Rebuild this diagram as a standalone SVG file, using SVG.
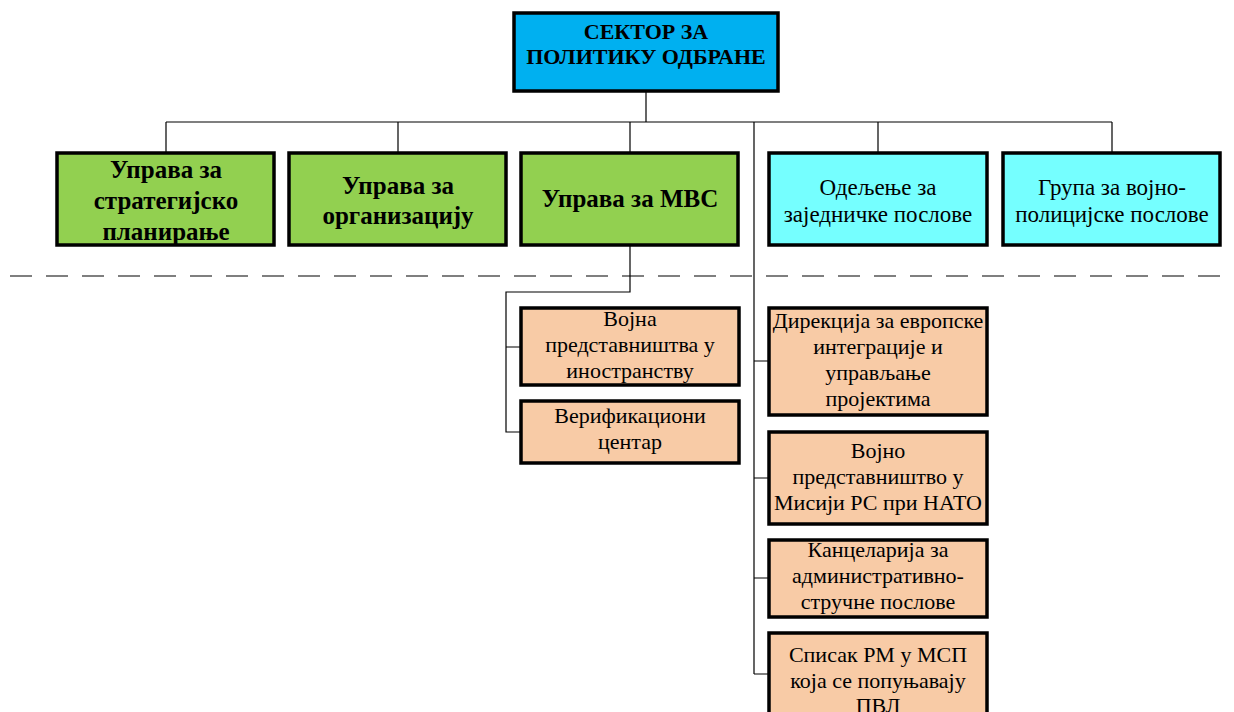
<svg xmlns="http://www.w3.org/2000/svg" width="1234" height="712" viewBox="0 0 1234 712">
<style>
.box{stroke:#000;stroke-width:3.5}
.top{fill:#00B0F0}
.green{fill:#92D050}
.cyan{fill:#75FFFF}
.orange{fill:#F8CBA6}
.conn{fill:none;stroke:#000;stroke-width:1.2}
text{font-family:"Liberation Serif","Times New Roman",serif;text-anchor:middle;fill:#000}
.tb{font-size:22px;font-weight:bold}
.gb{font-size:25px;font-weight:bold}
.rt{font-size:22px}
.ct{font-size:23px}
</style>
<rect width="1234" height="712" fill="#fff"/>
<line x1="10" y1="276" x2="1234" y2="276" stroke="#555" stroke-width="1.5" stroke-dasharray="22,14"/>
<g id="connectors">
<path class="conn" d="M646 91V122M166 122H1112M166 122V153M398 122V153M630 122V153M878 122V153M1112 122V153M754 122V674"/>
<path class="conn" d="M630 245V292H506V432H521M506 347H521"/>
<path class="conn" d="M754 361H769M754 478H769M754 578H769M754 674H769"/>
</g>
<g id="n-sektor"><rect class="box top" x="514" y="13" width="264" height="78"/>
<text class="tb" x="646" y="39">СЕКТОР ЗА</text><text class="tb" x="646" y="64">ПОЛИТИКУ ОДБРАНЕ</text></g>
<g id="n-strat"><rect class="box green" x="57" y="153" width="217" height="92"/>
<text class="gb" x="166" y="178">Управа за</text><text class="gb" x="166" y="209">стратегијско</text><text class="gb" x="166" y="240">планирање</text></g>
<g id="n-org"><rect class="box green" x="289" y="153" width="217" height="92"/>
<text class="gb" x="398" y="194">Управа за</text><text class="gb" x="398" y="224">организацију</text></g>
<g id="n-mvs"><rect class="box green" x="521" y="153" width="217" height="92"/>
<text class="gb" x="630" y="207">Управа за МВС</text></g>
<g id="n-odeljenje"><rect class="box cyan" x="769" y="153" width="218" height="92"/>
<text class="ct" x="878" y="195">Одељење за</text><text class="ct" x="878" y="222">заједничке послове</text></g>
<g id="n-grupa"><rect class="box cyan" x="1003" y="153" width="217" height="92"/>
<text class="ct" x="1112" y="195">Група за војно-</text><text class="ct" x="1112" y="222">полицијске послове</text></g>
<g id="n-vp"><rect class="box orange" x="521" y="308" width="218" height="77"/>
<text class="rt" x="630" y="326">Војна</text><text class="rt" x="630" y="352">представништва у</text><text class="rt" x="630" y="378">иностранству</text></g>
<g id="n-vc"><rect class="box orange" x="521" y="401" width="218" height="62"/>
<text class="rt" x="630" y="423">Верификациони</text><text class="rt" x="630" y="449">центар</text></g>
<g id="n-dir"><rect class="box orange" x="769" y="308" width="218" height="107"/>
<text class="rt" x="878" y="328">Дирекција за европске</text><text class="rt" x="878" y="354">интеграције и</text><text class="rt" x="878" y="380">управљање</text><text class="rt" x="878" y="406">пројектима</text></g>
<g id="n-nato"><rect class="box orange" x="769" y="432" width="218" height="92"/>
<text class="rt" x="878" y="458">Војно</text><text class="rt" x="878" y="484">представништво у</text><text class="rt" x="878" y="510">Мисији РС при НАТО</text></g>
<g id="n-kanc"><rect class="box orange" x="769" y="540" width="218" height="77"/>
<text class="rt" x="878" y="557">Канцеларија за</text><text class="rt" x="878" y="583">административно-</text><text class="rt" x="878" y="609">стручне послове</text></g>
<g id="n-spisak"><rect class="box orange" x="769" y="633" width="218" height="100"/>
<text class="rt" x="878" y="662">Списак РМ у МСП</text><text class="rt" x="878" y="688">која се попуњавају</text><text class="rt" x="878" y="713">ПВЛ</text></g>
</svg>
